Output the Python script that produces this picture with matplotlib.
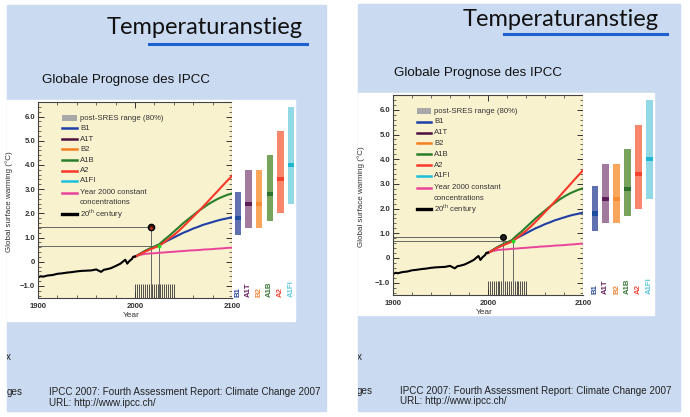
import matplotlib
matplotlib.use("Agg")
import matplotlib.pyplot as plt
from matplotlib.patches import Rectangle
from matplotlib.ticker import MultipleLocator, FixedLocator
from matplotlib.transforms import Bbox, TransformedBbox

plt.rcParams['font.family'] = ['Liberation Sans', 'DejaVu Sans']
plt.rcParams['mathtext.fontset'] = 'custom'
plt.rcParams['mathtext.rm'] = 'Liberation Sans'

W, H = 690, 417

# observed 20th century warming
hist_years = [1900, 1903, 1905, 1910, 1915, 1920, 1925, 1930, 1935, 1940, 1945,
              1950, 1955, 1960, 1963, 1965, 1968, 1970, 1975, 1980, 1985, 1988,
              1990, 1992, 1994, 1997, 1998, 2000]
hist_temp = [-0.65, -0.6, -0.62, -0.57, -0.55, -0.5, -0.48, -0.45, -0.43, -0.4, -0.38,
             -0.37, -0.36, -0.32, -0.38, -0.42, -0.33, -0.32, -0.27, -0.18, -0.08, 0.02,
             0.08, -0.08, 0.02, 0.12, 0.2, 0.22]

# scenario projections
proj_years = [2000, 2005, 2010, 2015, 2020, 2025, 2030, 2035, 2040, 2045, 2050,
              2055, 2060, 2065, 2070, 2075, 2080, 2085, 2090, 2095, 2100]
b1 = [0.20, 0.32, 0.43, 0.52, 0.60, 0.68, 0.80, 0.90, 1.00, 1.10, 1.20,
      1.28, 1.37, 1.44, 1.52, 1.58, 1.64, 1.70, 1.75, 1.79, 1.84]
a1b = [0.20, 0.32, 0.44, 0.54, 0.63, 0.72, 0.90, 1.06, 1.24, 1.42, 1.60,
       1.76, 1.92, 2.08, 2.22, 2.36, 2.48, 2.59, 2.68, 2.76, 2.82]
a2 = [0.20, 0.31, 0.41, 0.50, 0.58, 0.66, 0.80, 0.95, 1.10, 1.27, 1.46,
      1.66, 1.86, 2.06, 2.27, 2.48, 2.70, 2.91, 3.13, 3.34, 3.55]
const = [0.22, 0.28, 0.32, 0.34, 0.35, 0.37, 0.38, 0.40, 0.41, 0.43, 0.44,
         0.46, 0.47, 0.48, 0.50, 0.51, 0.52, 0.54, 0.55, 0.57, 0.58]

# likely ranges at 2100
scenarios = ["B1", "A1T", "B2", "A1B", "A2", "A1FI"]
best = [1.8, 2.4, 2.4, 2.8, 3.4, 4.0]
low = [1.1, 1.4, 1.4, 1.7, 2.0, 2.4]
high = [2.9, 3.8, 3.8, 4.4, 5.4, 6.4]

rug_years = [2000, 2002, 2004, 2006, 2008, 2010, 2012, 2014, 2016, 2018, 2020,
             2022, 2024, 2026, 2028, 2030, 2032, 2034, 2036, 2038, 2040]

y_ticks = [-1, 0, 1, 2, 3, 4, 5, 6]
y_labels = ["\u22121.0", "0", "1.0", "2.0", "3.0", "4.0", "5.0", "6.0"]
x_ticks = [1900, 2000, 2100]

# annotated points (slide left / slide right)
mark_years_l = [2016, 2025]
mark_temps_l = [1.45, 0.65]
mark_years_r = [2016, 2026]
mark_temps_r = [0.84, 0.68]

line_col = {"B1": "#1f3fa6", "A1T": "#4b1040", "B2": "#f38020", "A1B": "#2a7d2a",
            "A2": "#f8382a", "A1FI": "#1cc0dc"}
bar_light = ["#6170b0", "#a27a9d", "#f9a55a", "#77a35c", "#f7866a", "#92d9e6"]
bar_dark = ["#1f4e9e", "#5a1d55", "#f38c35", "#2f6f2f", "#f5412f", "#1fb6cf"]
lab_col = ["#2b4a9a", "#6a2060", "#f4883a", "#3a7a3a", "#f04a3a", "#5cc8e0"]

slides = [
    dict(bg=(7, 5, 326, 411), title=(204.5, 34.3), rule=(149, 307, 43.5), sub=(42, 83.3),
         panel=(7, 100, 295, 321), plot=(38, 102, 232, 298), bars=(232, 102, 295, 298),
         bar_lim=(-0.57, 5.38), foot=(49, 395.3, 405.7), cut=(22.5, 395.3), frag=(10.5, 360),
         ylab=-0.13, my=mark_years_l, mt=mark_temps_l, big=True),
    dict(bg=(358, 4, 680, 411), title=(561, 26), rule=(504, 667, 34), sub=(394, 76),
         panel=(358, 93, 654, 315), plot=(393, 95, 583, 295), bars=(583, 95, 654, 295),
         bar_lim=(-1.1, 5.44), foot=(400, 394, 404), cut=(373, 394), frag=(361.5, 360),
         ylab=-0.15, my=mark_years_r, mt=mark_temps_r, big=False),
]

fig = plt.figure(figsize=(W / 100, H / 100), dpi=100)


def rect(x0, y0, x1, y1):
    return [x0 / W, 1 - y1 / H, (x1 - x0) / W, (y1 - y0) / H]


for s in slides:
    x0, y0, x1, y1 = s["bg"]
    fig.patches.append(Rectangle((x0 / W, 1 - y1 / H), (x1 - x0) / W, (y1 - y0) / H,
                                 transform=fig.transFigure, color="#c9daf1", zorder=-5))
    clip = TransformedBbox(Bbox.from_extents(x0 / W, 1 - y1 / H, x1 / W, 1 - y0 / H),
                           fig.transFigure)
    px0, py0, px1, py1 = s["panel"]
    fig.patches.append(Rectangle((px0 / W, 1 - py1 / H), (px1 - px0) / W, (py1 - py0) / H,
                                 transform=fig.transFigure, color="white", zorder=-4))

    fig.text(s["title"][0] / W, 1 - s["title"][1] / H, "Temperaturanstieg",
             family="Lato", fontsize=17, ha="center", va="baseline", color="#111111")
    r0, r1, ry = s["rule"]
    fig.add_artist(plt.Line2D([r0 / W, r1 / W], [1 - ry / H, 1 - ry / H],
                              color="#1e62d0", lw=2.2, transform=fig.transFigure))
    fig.text(s["sub"][0] / W, 1 - s["sub"][1] / H, "Globale Prognose des IPCC",
             fontsize=9.6, va="baseline", color="#111111")
    fx, fb1, fb2 = s["foot"]
    fig.text(fx / W, 1 - fb1 / H, "IPCC 2007: Fourth Assessment Report: Climate Change 2007",
             fontsize=7.1, va="baseline", color="#222222")
    fig.text(fx / W, 1 - fb2 / H, "URL: http://www.ipcc.ch/",
             fontsize=7.1, va="baseline", color="#222222")
    t = fig.text(s["cut"][0] / W, 1 - s["cut"][1] / H, "ges", fontsize=7.1,
                 ha="right", va="baseline", color="#222222")
    t.set_clip_box(clip)
    t.set_clip_on(True)
    t = fig.text(s["frag"][0] / W, 1 - s["frag"][1] / H, "x", fontsize=7.1,
                 ha="right", va="baseline", color="#222222")
    t.set_clip_box(clip)
    t.set_clip_on(True)

    # main panel
    ax = fig.add_axes(rect(*s["plot"]))
    ax.set_facecolor("#f9f2cf")
    ax.set_xlim(1900, 2100)
    ax.set_ylim(-1.5, 6.6)

    ax.vlines(rug_years, -1.5, -0.92, color="#333333", lw=0.6)
    my, mt = s["my"], s["mt"]
    for yr, tv in zip(my, mt):
        ax.plot([1900, yr], [tv, tv], color="#666666", lw=0.7)
        ax.plot([yr, yr], [-1.5, tv], color="#666666", lw=0.7)

    ax.plot(proj_years, const, color="#e8449a", lw=1.4)
    ax.plot(proj_years, b1, color=line_col["B1"], lw=1.5)
    ax.plot(proj_years, a1b, color=line_col["A1B"], lw=1.5)
    ax.plot(proj_years, a2, color=line_col["A2"], lw=1.5)
    ax.plot(hist_years, hist_temp, color="black", lw=1.5)

    if s["big"]:
        ax.plot(my[0], mt[0], marker="o", ms=4.5, color="#3a1a10", mec="black")
        ax.plot(my[0], mt[0] - 0.05, marker="o", ms=2, color="#d03020", mec="none")
    else:
        ax.plot(my[0], mt[0], marker="o", ms=4, color="#222222", mec="black")
    ax.plot(my[1], mt[1], marker="o", ms=2.8, color="#22dd22", mec="none")

    ax.xaxis.set_major_locator(FixedLocator(x_ticks))
    ax.xaxis.set_minor_locator(MultipleLocator(20))
    ax.yaxis.set_major_locator(FixedLocator(y_ticks))
    ax.yaxis.set_minor_locator(MultipleLocator(0.2))
    ax.set_yticklabels(y_labels)
    ax.tick_params(which="both", direction="in", top=True, right=True, colors="#333333")
    ax.tick_params(which="major", length=4, width=0.7, labelsize=5.6, pad=2)
    ax.tick_params(which="minor", length=2, width=0.5)
    ax.tick_params(axis="x", pad=3.5)
    for lab in ax.get_xticklabels() + ax.get_yticklabels():
        lab.set_fontweight("bold")
    for sp in ax.spines.values():
        sp.set_color("#444444")
        sp.set_linewidth(0.8)
    ax.set_ylabel("Global surface warming (\u00b0C)", fontsize=5.8, color="#333333")
    ax.yaxis.set_label_coords(s["ylab"], 0.49)
    ax.set_xlabel("Year", fontsize=6, color="#333333")
    ax.xaxis.set_label_coords(0.48, -0.072)

    # hand-placed legend
    ax.add_patch(Rectangle((0.124, 0.905), 0.076, 0.028, transform=ax.transAxes,
                           color="#a8a8a8", lw=0))
    ax.text(0.216, 0.918, "post-SRES range (80%)", transform=ax.transAxes,
            fontsize=5.6, va="center", color="#333333")
    rows = [0.867, 0.811, 0.758, 0.704, 0.648, 0.597]
    for name, ry in zip(scenarios, rows):
        ax.plot([0.124, 0.2], [ry, ry], color=line_col[name], lw=1.8, transform=ax.transAxes)
        ax.text(0.216, ry, name, transform=ax.transAxes, fontsize=5.6, va="center",
                color="#333333")
    ax.plot([0.124, 0.2], [0.536, 0.536], color="#e8449a", lw=1.8, transform=ax.transAxes)
    ax.text(0.216, 0.536, "Year 2000 constant", transform=ax.transAxes, fontsize=5.6,
            va="center", color="#333333")
    ax.text(0.216, 0.485, "concentrations", transform=ax.transAxes, fontsize=5.6,
            va="center", color="#333333")
    ax.plot([0.124, 0.2], [0.429, 0.429], color="black", lw=2.4, transform=ax.transAxes)
    ax.text(0.216, 0.429, "20$^{\\rm th}$ century", transform=ax.transAxes, fontsize=5.6,
            va="center", color="#333333")

    # ranges at 2100
    bx = fig.add_axes(rect(*s["bars"]))
    bx.set_facecolor("white")
    bx.set_xlim(*s["bar_lim"])
    bx.set_ylim(-1.5, 6.6)
    pos = list(range(len(scenarios)))
    bx.bar(pos, [h - l for h, l in zip(high, low)], bottom=low, width=0.62,
           color=bar_light, lw=0)
    bx.bar(pos, 0.17, bottom=[b - 0.085 for b in best], width=0.62, color=bar_dark, lw=0)
    for i, name in enumerate(scenarios):
        bx.text(i, -1.46, name, rotation=90, ha="center", va="bottom", fontsize=5.6,
                fontweight="bold", color=lab_col[i])
    bx.set_xticks([])
    bx.set_yticks([])
    for sp in bx.spines.values():
        sp.set_visible(False)

fig.savefig("out.png", dpi=100, facecolor="white")
